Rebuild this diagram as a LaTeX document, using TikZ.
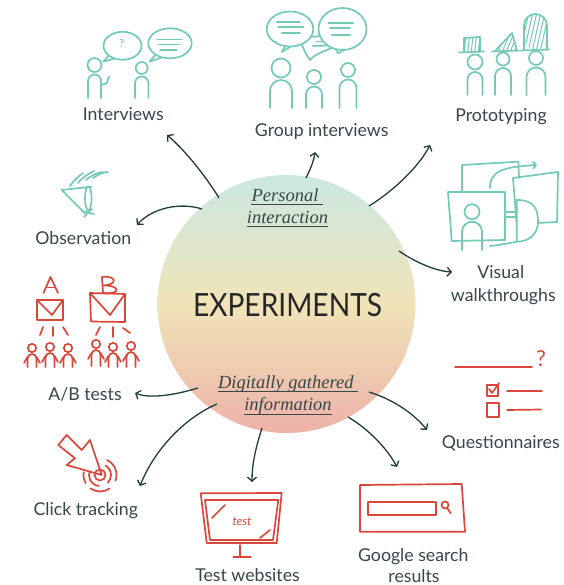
\documentclass[tikz,border=0pt]{standalone}
\usepackage{fontspec}
\setmainfont{Lato}
\newfontfamily\notefont{Liberation Serif}
\usetikzlibrary{arrows.meta}
\definecolor{inkteal}{HTML}{74C9B8}
\definecolor{inkred}{HTML}{D9473B}
\definecolor{labelgray}{HTML}{37474A}
\definecolor{arrowink}{HTML}{1F3D3A}
\definecolor{toptint}{HTML}{CBE8E2}
\definecolor{midtint}{HTML}{F0E4B8}
\definecolor{lowtint}{HTML}{EDB2A9}

% stick figure: style, x, head y, head radius, body half width, foot y
\newcommand\stickman[6]{%
  \draw[#1] (#2,#3) circle[radius=#4];
  \draw[#1, rounded corners=#5pt] ({#2-#5},#6) -- ({#2-#5},{#3+#4+2.5}) -- ({#2+#5},{#3+#4+2.5}) -- ({#2+#5},#6);
}
% small figure with arms: style, x, head y, foot y
\newcommand\tinyperson[4]{%
  \draw[#1] (#2,#3) circle[radius=4.2];
  \draw[#1, rounded corners=4.5pt] ({#2-4.5},#4) -- ({#2-4.5},{#3+6}) -- ({#2+4.5},{#3+6}) -- ({#2+4.5},#4);
  \draw[#1] ({#2-4.5},{#3+9}) -- ({#2-8},{#3+15});
  \draw[#1] ({#2+4.5},{#3+9}) -- ({#2+8},{#3+15});
}

\begin{document}
\begin{tikzpicture}[x=1pt,y=-1pt,
  lbl/.style={text=labelgray, font=\fontsize{17.7}{21}\selectfont, anchor=base, inner sep=0pt},
  note/.style={text=labelgray, font=\notefont\itshape\fontsize{18.5}{21}\selectfont, anchor=base, inner sep=0pt},
  uline/.style={draw=labelgray, line width=0.9pt},
  conn/.style={draw=arrowink, line width=1.3pt, -{Straight Barb[length=4pt,width=9pt]}},
  tealink/.style={draw=inkteal, line width=1.7pt, line cap=round, line join=round},
  redink/.style={draw=inkred, line width=1.7pt, line cap=round, line join=round},
  hatch/.style={draw=inkteal, line width=1pt},
]
\useasboundingbox[fill=white] (0,0) rectangle (563,585);

% ---------- central circle ----------
\node[circle, minimum size=258pt, inner sep=0pt,
      top color=toptint, bottom color=lowtint, middle color=midtint] (exp) at (286.5,304) {};
\node[text=black!85, font=\fontsize{32}{36}\selectfont, anchor=base, inner sep=0pt] (title) at (287.5,316.7)
  {\scalebox{0.88}[1]{EXPERIMENTS}};

\node[note] (pers1) at (285,201.7) {Personal};
\node[note] (pers2) at (287.5,223.3) {interaction};
\draw[uline] ([yshift=-2.5pt]pers1.base west) -- ([xshift=4pt,yshift=-2.5pt]pers1.base east);
\draw[uline] ([yshift=-3pt]pers2.base west) -- ([yshift=-3pt]pers2.base east);
\node[note] (dig1) at (285.8,388.3) {Digitally gathered};
\node[note] (dig2) at (288,410.7) {information};
\draw[uline] ([yshift=-3pt]dig1.base west) -- ([xshift=4pt,yshift=-3pt]dig1.base east);
\draw[uline] ([yshift=-4pt]dig2.base west) -- ([yshift=-4pt]dig2.base east);

% ---------- labels ----------
\node[lbl] (interviews) at (123.3,120.7) {Interviews};
\node[lbl] (group) at (321.7,136.7) {Group interviews};
\node[lbl] (proto) at (501,121.7) {Prototyping};
\node[lbl] (observe) at (83.3,244) {Observation};
\node[lbl] (visual) at (500.8,278.3) {Visual};
\node[lbl] (visual2) at (503.3,301.7) {walkthroughs};
\node[lbl] (abtests) at (85,400) {A/B tests};
\node[lbl] (quest) at (500.8,448.3) {Questionnaires};
\node[lbl] (click) at (85.8,515) {Click tracking};
\node[lbl] (testweb) at (247.5,581.3) {Test websites};
\node[lbl] (google) at (413.3,561.3) {Google search};
\node[lbl] (google2) at (414,582.3) {results};

% ---------- connectors ----------
\coordinate (s1) at (219,198);  \coordinate (e1) at (167,135);
\coordinate (s2) at (306,178);  \coordinate (e2) at (315,152);
\coordinate (s3) at (369,206);  \coordinate (e3) at (430,145);
\coordinate (s4) at (202,209);  \coordinate (e4) at (137,225);
\coordinate (s5) at (399,251);  \coordinate (e5) at (452,272);
\coordinate (s6) at (198,388);  \coordinate (e6) at (135,393);
\coordinate (s7) at (217,404);  \coordinate (e7) at (140,486);
\coordinate (s8) at (262,428);  \coordinate (e8) at (252,482);
\coordinate (s9) at (348,417);  \coordinate (e9) at (397,467);
\coordinate (s10) at (369,392); \coordinate (e10) at (427,430);
\draw[conn] (s1) .. controls (207,178) and (185,150) .. (e1);
\draw[conn] (s2) .. controls (311,168) and (314,160) .. (e2);
\draw[conn] (s3) .. controls (395,190) and (420,165) .. (e3);
\draw[conn] (s4) .. controls (180,202) and (152,208) .. (e4);
\draw[conn] (s5) .. controls (415,262) and (435,271) .. (e5);
\draw[conn] (s6) .. controls (175,395) and (150,399) .. (e6);
\draw[conn] (s7) .. controls (180,420) and (152,455) .. (e7);
\draw[conn] (s8) .. controls (255,450) and (252,465) .. (e8);
\draw[conn] (s9) .. controls (370,430) and (388,450) .. (e9);
\draw[conn] (s10) .. controls (395,400) and (415,415) .. (e10);

% ---------- interviews icon ----------
\stickman{tealink}{94.5}{65}{7}{6.5}{98}
\draw[tealink] (101,85) -- (106.7,83.3) -- (109,76.7);
\stickman{tealink}{141.7}{68}{6}{6.7}{98}
\draw[tealink] (122.5,45.8) ellipse[x radius=19, y radius=14];
\draw[tealink] (108.5,56) -- (103.3,61.7) -- (114,58.8);
\node[text=inkteal, font=\fontsize{11}{11}\selectfont, inner sep=0pt] (qmark) at (121.7,44) {?};
\draw[tealink] (170,43.3) ellipse[x radius=21.7, y radius=15];
\draw[tealink] (155,55.5) -- (149.3,61.7) -- (161,57.7);
\draw[tealink] (157,39.5) -- (181.7,39.5);
\draw[tealink] (159,44.5) -- (180,44.5);
\draw[tealink] (160,50) -- (176.7,50);

% ---------- group interviews icon ----------
\draw[tealink] (306,35) .. controls (312,37.5) and (318,37.5) .. (322,34);
\draw[tealink] (301,42) .. controls (304,50) and (306,55) .. (310,60) .. controls (316,53) and (326,51) .. (334,47);
\draw[tealink] (316,41.5) -- (322,41.5);
\draw[tealink] (313,46) -- (327,45.5);
\draw[tealink, fill=white] (290,29) ellipse[x radius=23.3, y radius=17.5];
\draw[tealink, fill=white] (342.5,29) ellipse[x radius=24, y radius=21];
\draw[tealink] (276.7,21.7) -- (300,21.7);
\draw[tealink] (278.3,26.7) -- (303.3,26.7);
\draw[tealink] (281.7,33.3) -- (300,33.3);
\draw[tealink] (328.3,23.3) -- (353.3,23.3);
\draw[tealink] (330,28.3) -- (350,28.3);
\draw[tealink] (331.7,35) -- (350,35);
\draw[tealink] (285,46.5) -- (281.7,52) -- (291,46.5);
\draw[tealink] (335,48.5) -- (338.3,53.3) -- (344,50);
\stickman{tealink}{281}{68}{9.5}{11}{108}
\stickman{tealink}{314}{77}{7}{8}{108}
\stickman{tealink}{348}{70}{7}{8.5}{108}

% ---------- prototyping icon ----------
\stickman{tealink}{475}{62}{7.5}{7.5}{95}
\begin{scope}
  \clip (464,38) rectangle (480,52);
  \foreach \xx in {466,469.5,...,482} \draw[hatch] (\xx,36) -- ({\xx-2},54);
\end{scope}
\draw[tealink] (464,52) -- (464,38) -- (480,37) -- (480,52);
\draw[tealink] (459,52.5) -- (484,51.5);
\stickman{tealink}{503}{59}{6.5}{8}{95}
\begin{scope}
  \clip (495,51) -- (512,33) -- (517,51) -- cycle;
  \foreach \xx in {490,494,...,522} \draw[hatch] (\xx,52) -- ({\xx+9},31);
\end{scope}
\draw[tealink] (495,51) -- (512,33) -- (517,51);
\draw[tealink] (492,51.5) -- (519,50.5);
\stickman{tealink}{536}{58}{7}{9.5}{95}
\begin{scope}
  \clip[rounded corners=11.5pt] (524,50) -- (524,14) -- (547,14) -- (547,50) -- cycle;
  \foreach \xx in {516,520,...,548} \draw[hatch] (\xx,52) -- ({\xx+9},12);
\end{scope}
\draw[tealink, rounded corners=11.5pt] (524,50) -- (524,14) -- (547,14) -- (547,50);
\draw[tealink] (521,50.5) -- (549,49.5);

% ---------- observation icon ----------
\draw[tealink] (91.7,186.7) -- (61.7,190) -- (85,213.3);
\draw[tealink] (88.3,198.3) ellipse[x radius=3.3, y radius=12];
\draw[tealink] (70,186) .. controls (74,180) and (79,176) .. (83,173);
\draw[tealink] (78,183) .. controls (83,177) and (88,174) .. (94,171);
\draw[tealink] (86,180) .. controls (92,175) and (97,173) .. (102,172);
\draw[tealink] (93,178) .. controls (99,174) and (104,172) .. (108,172);
\draw[tealink] (82,211) -- (94,214);
\draw[tealink] (84,217) -- (92,209);

% ---------- visual walkthroughs icon ----------
\draw[tealink] (462,192) -- (462,165) -- (518.3,161.7) -- (519,178);
\draw[tealink] (513,178) -- (558,172) -- (557,222) -- (516.7,224) -- cycle;
\draw[tealink, fill=white] (516.7,200) .. controls (535,200) and (538,210) .. (538,221.7)
  .. controls (538,233) and (530,241.7) .. (516.7,241.7) -- cycle;
\draw[tealink] (490,246) .. controls (500,245) and (510,243) .. (516.7,241.7);
\draw[tealink] (505,211.7) -- (516.7,211.7);
\draw[tealink] (505,217) -- (516.7,217);
\draw[tealink, fill=white] (448,192) -- (505,192) -- (505,240) -- (451.7,241) -- cycle;
\stickman{tealink}{472}{211.7}{7.5}{10}{250}
\draw[tealink, -{Straight Barb[length=3pt,width=7pt]}] (490,188) .. controls (490,170) and (505,167) .. (537,165);

% ---------- A/B tests icon ----------
\draw[redink] (43.5,293) -- (50.5,277) -- (58,293);
\draw[redink] (46,287.5) -- (55.5,287.5);
\draw[redink] (103,293) -- (102,277) .. controls (117,275) and (118,285) .. (103,285.5)
  .. controls (121,285) and (121,295) .. (103,293);
\draw[redink] (37,300) rectangle (63,320);
\draw[redink] (37,300) -- (52,315) -- (63,300);
\draw[redink] (90,293) -- (125,294) -- (125,322) -- (91,321.5) -- cycle;
\draw[redink] (90,293) -- (110,315) -- (125,294);
\draw[redink] (43,327) -- (40,335);
\draw[redink] (53,327) -- (53,336);
\draw[redink] (63,327) -- (68,335);
\draw[redink] (100,327) -- (96,335);
\draw[redink] (113,327) -- (113,337);
\draw[redink] (123,328) -- (130,333);
\tinyperson{redink}{32}{348}{367}
\tinyperson{redink}{50}{347}{367}
\tinyperson{redink}{68}{348}{367}
\tinyperson{redink}{96}{344}{366}
\tinyperson{redink}{113}{347}{367}
\tinyperson{redink}{131}{346}{367}

% ---------- questionnaires icon ----------
\draw[redink] (455,367) -- (532,367);
\node[text=inkred, font=\fontsize{22}{22}\selectfont, inner sep=0pt] (qmark2) at (541,359) {?};
\draw[redink] (487,385) rectangle (498,396);
\draw[redink] (489,389) -- (492,393) -- (499,383);
\draw[redink] (507,391) -- (542,391);
\draw[redink] (487,403) rectangle (499,417);
\draw[redink] (507,410) -- (541,409.5);

% ---------- click tracking icon ----------
\draw[redink] (66.7,435) -- (58.3,445) -- (75,458.3) -- (66.7,465) -- (101.7,475)
  -- (90,440) -- (81.7,450) -- cycle;
\draw[redink] (100,475) circle[radius=5.5];
\draw[redink] (100,475) ++(-60:11) arc[start angle=-60, end angle=45, radius=11];
\draw[redink] (100,475) ++(95:11) arc[start angle=95, end angle=200, radius=11];
\draw[redink] (100,475) ++(-65:16.5) arc[start angle=-65, end angle=20, radius=16.5];
\draw[redink] (100,475) ++(55:16.5) arc[start angle=55, end angle=125, radius=16.5];
\draw[redink] (100,475) ++(150:16.5) arc[start angle=150, end angle=190, radius=16.5];

% ---------- test websites icon ----------
\draw[redink] (200.7,493.3) -- (281.7,493) -- (276.7,543) -- (206.7,543) -- cycle;
\draw[redink] (205,500) -- (278.3,500) -- (273,540) -- (210,540) -- cycle;
\draw[redink] (240,545) -- (240,556.7);
\draw[redink] (233.3,557) -- (250.7,557);
\draw[redink] (212,518) -- (225,505);
\draw[redink] (260,538) -- (270,530);
\node[text=inkred, font=\itshape\fontsize{12}{12}\selectfont, inner sep=0pt] (testword) at (242,522) {test};

% ---------- google search icon ----------
\draw[redink] (360,485) -- (461.7,484) -- (465,531.7) -- (360,531.7) -- cycle;
\draw[redink] (368.3,501.7) rectangle (436,515);
\draw[redink] (445,505) circle[radius=3.5];
\draw[redink] (447.3,508.3) -- (450.7,513.3);

\end{tikzpicture}
\end{document}
